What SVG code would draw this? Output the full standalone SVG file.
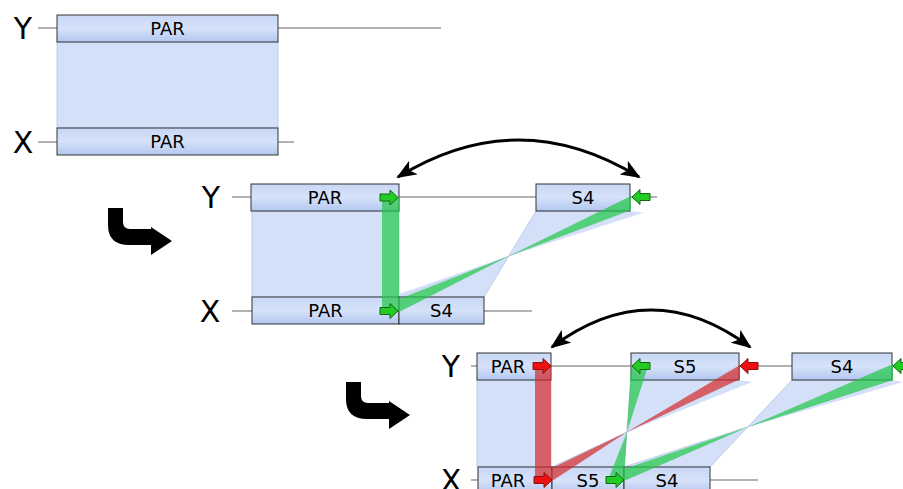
<svg xmlns="http://www.w3.org/2000/svg" width="903" height="489" viewBox="0 0 903 489">
<defs>
<linearGradient id="boxg" x1="0" y1="0" x2="0" y2="1">
<stop offset="0" stop-color="#c8d7f5"/>
<stop offset="0.5" stop-color="#d6e2f9"/>
<stop offset="1" stop-color="#b2c6ef"/>
</linearGradient>
<marker id="ah" viewBox="0 0 20 16" refX="18" refY="8" markerWidth="20" markerHeight="16" markerUnits="userSpaceOnUse" orient="auto-start-reverse">
<path d="M0,0 L20,8 L0,16 L5,8 Z" fill="#000"/>
</marker>
<path id="rarrow" d="M-18,-3.5 H-8 V-7.5 L0,0 L-8,7.5 V3.5 H-18 Z"/>
<path id="hook" d="M0,0 H15 V14 Q15,21 22,21 H43 V19 L64,33 L43,47 V37 H21 Q0,37 0,17 Z"/>
</defs>
<style>
.box{fill:url(#boxg);stroke:#333;stroke-width:1}
.area{fill:#d3e0f8;stroke:#b4c4e2;stroke-width:0.8}
.sl{fill:#d3e0f8}
.tl{stroke:#999;stroke-width:1.5;fill:none}
.t{font-family:"DejaVu Sans",sans-serif;font-size:18px;fill:#000;text-anchor:middle}
.lbl{font-family:"DejaVu Sans",sans-serif;font-size:30px;fill:#000;text-anchor:middle}
.gb{fill:#22c84a;fill-opacity:0.72}
.rb{fill:#d62a2a;fill-opacity:0.7}
.ga{fill:#22cc22;stroke:#126612;stroke-width:1}
.ra{fill:#ee1111;stroke:#881111;stroke-width:1}
.arc{fill:none;stroke:#000;stroke-width:3}
</style>
<rect width="903" height="489" fill="#fff"/>

<g id="areas">
<rect class="area" x="57" y="42" width="221" height="86"/>
<rect class="area" x="252" y="211" width="147" height="86"/>
<polygon class="area" points="536,211 630,211 399,297 484,297"/>
<polygon class="sl" points="630,211 644,212.5 509,256"/>
<polygon class="sl" points="399,297 399,294 509,256"/>
<rect class="area" x="477" y="380" width="74" height="87"/>
<polygon class="area" points="631,380 739,380 552,467 624,467"/>
<polygon class="sl" points="739,380 752,382 627,432"/>
<polygon class="area" points="792,380 892,380 624,467 710,467"/>
<polygon class="sl" points="892,380 903,382 748,427"/>
</g>

<g id="timelines">
<line class="tl" x1="38" y1="28" x2="441" y2="28"/>
<line class="tl" x1="38" y1="142" x2="294" y2="142"/>
<line class="tl" x1="232" y1="197" x2="657" y2="197"/>
<line class="tl" x1="232" y1="311" x2="532" y2="311"/>
<line class="tl" x1="471" y1="366" x2="903" y2="366"/>
<line class="tl" x1="471" y1="480" x2="758" y2="480"/>
</g>

<text class="lbl" x="23" y="39">Y</text>
<text class="lbl" x="23" y="153">X</text>
<text class="lbl" x="211" y="208">Y</text>
<text class="lbl" x="210" y="322">X</text>
<text class="lbl" x="451" y="377">Y</text>
<text class="lbl" x="451" y="491">X</text>

<g id="p1-y-par"><rect class="box" x="57" y="15" width="221" height="27"/><text class="t" x="167.5" y="35">PAR</text></g>
<g id="p1-x-par"><rect class="box" x="57" y="128" width="221" height="27"/><text class="t" x="167.5" y="148">PAR</text></g>

<g id="p2-y-par"><rect class="box" x="251" y="184" width="148" height="27"/><text class="t" x="325" y="204">PAR</text></g>
<g id="p2-y-s4"><rect class="box" x="536" y="184" width="94" height="27"/><text class="t" x="583" y="204">S4</text></g>
<g id="p2-x-par"><rect class="box" x="252" y="297" width="147" height="27"/><text class="t" x="325.5" y="317">PAR</text></g>
<g id="p2-x-s4"><rect class="box" x="399" y="297" width="85" height="27"/><text class="t" x="441.5" y="317">S4</text></g>

<g id="p3-y-par"><rect class="box" x="477" y="353" width="74" height="27"/><text class="t" x="508" y="373">PAR</text></g>
<g id="p3-y-s5"><rect class="box" x="631" y="353" width="108" height="27"/><text class="t" x="685" y="373">S5</text></g>
<g id="p3-y-s4"><rect class="box" x="792" y="353" width="100" height="27"/><text class="t" x="842" y="373">S4</text></g>
<g id="p3-x-par"><rect class="box" x="478" y="467" width="74" height="27"/><text class="t" x="508" y="487">PAR</text></g>
<g id="p3-x-s5"><rect class="box" x="552" y="467" width="72" height="27"/><text class="t" x="588" y="487">S5</text></g>
<g id="p3-x-s4"><rect class="box" x="624" y="467" width="86" height="27"/><text class="t" x="667" y="487">S4</text></g>

<g id="connectors">
<rect class="gb" x="382" y="197" width="17" height="114"/>
<polygon class="gb" points="631,196 631,210 509,256"/>
<polygon class="gb" points="509,256 399,299 399,312"/>
<rect class="rb" x="535" y="366" width="16" height="114"/>
<polygon class="rb" points="740,365 740,379 627,432"/>
<polygon class="rb" points="627,432 552,468 552,481"/>
<polygon class="gb" points="631,366 648,366 627,432"/>
<polygon class="gb" points="627,432 608,480 624,480"/>
<polygon class="gb" points="893,364 893,380 748,427"/>
<polygon class="gb" points="748,427 624,469 624,481"/>

<use href="#rarrow" class="ga" transform="translate(398,197.5)"/>
<use href="#rarrow" class="ga" transform="translate(398,311)"/>
<use href="#rarrow" class="ga" transform="translate(632,197) scale(-1,1)"/>
<use href="#rarrow" class="ra" transform="translate(551,366)"/>
<use href="#rarrow" class="ra" transform="translate(552,480)"/>
<use href="#rarrow" class="ga" transform="translate(632,366) scale(-1,1)"/>
<use href="#rarrow" class="ra" transform="translate(740,366) scale(-1,1)"/>
<use href="#rarrow" class="ga" transform="translate(893,366) scale(-1,1)"/>
<use href="#rarrow" class="ga" transform="translate(624,480)"/>

<path class="arc" d="M398,177 Q518,103 639,177" marker-start="url(#ah)" marker-end="url(#ah)"/>
<path class="arc" d="M552,347 Q651,273 750,347" marker-start="url(#ah)" marker-end="url(#ah)"/>
</g>

<g id="step-icons">
<use href="#hook" transform="translate(108,208)" fill="#000"/>
<use href="#hook" transform="translate(346,382)" fill="#000"/>
</g>
</svg>
